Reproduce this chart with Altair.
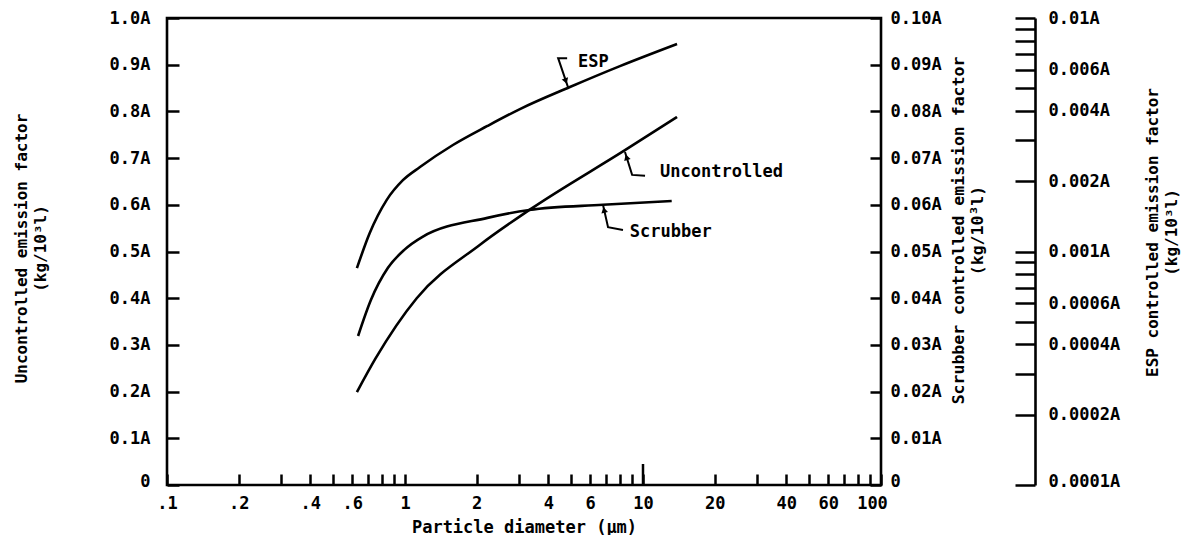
import altair as alt
import pandas as pd

# ---- data ----
x_unc = [0.628, 0.75, 1.12, 2.06, 3.33, 8.4, 13.9]
y_unc = [0.199, 0.27, 0.400, 0.514, 0.589, 0.717, 0.788]

x_scr = [0.635, 0.719, 0.848, 0.99, 1.18, 2.22, 3.33, 6.78, 13.2]
y_scr = [0.0319, 0.0396, 0.0465, 0.0503, 0.0531, 0.0572, 0.0589, 0.0600, 0.0608]

x_esp = [0.628, 0.711, 0.837, 0.980, 1.156, 1.59, 2.22, 3.04, 4.93, 8.0, 13.9]
y_esp = [0.000849, 0.00120, 0.00166, 0.00202, 0.00230, 0.002858, 0.003448, 0.004074, 0.005064, 0.006223, 0.00774]

x_ticks = [0.1, 0.2, 0.3, 0.4, 0.5, 0.6, 0.7, 0.8, 0.9, 1, 2, 3, 4, 5, 6, 7, 8, 9, 10,
           20, 30, 40, 50, 60, 70, 80, 90, 100]
x_labels = [0.1, 0.2, 0.4, 0.6, 1, 2, 4, 6, 10, 20, 40, 60, 100]
x_long_tick = [10]
u_ticks = [0, 0.1, 0.2, 0.3, 0.4, 0.5, 0.6, 0.7, 0.8, 0.9, 1.0]
s_ticks = [0, 0.01, 0.02, 0.03, 0.04, 0.05, 0.06, 0.07, 0.08, 0.09, 0.1]
e_ticks = [0.0001, 0.0002, 0.0003, 0.0004, 0.0005, 0.0006, 0.0007, 0.0008, 0.0009,
           0.001, 0.002, 0.003, 0.004, 0.005, 0.006, 0.007, 0.008, 0.009, 0.01]
e_labels = [0.01, 0.006, 0.004, 0.002, 0.001, 0.0006, 0.0004, 0.0002, 0.0001]

# annotations (positions in data units of the x axis and the uncontrolled axis)
label_names = ["ESP", "Uncontrolled", "Scrubber"]
label_x = [5.33, 11.8, 8.8]
label_y = [0.906, 0.670, 0.542]

leader_name = ["ESP"] * 3 + ["Uncontrolled"] * 3 + ["Scrubber"] * 3
leader_x = [4.84, 4.40, 4.80, 8.40, 9.0, 10.2, 6.79, 7.13, 8.24]
leader_y = [0.852, 0.914, 0.914, 0.713, 0.664, 0.662, 0.600, 0.552, 0.546]
leader_ord = [0, 1, 2, 0, 1, 2, 0, 1, 2]

arrow_x = [4.74, 8.53, 6.86]
arrow_y = [0.865, 0.702, 0.589]
arrow_angle = [161, 343, 347]

FONT = "DejaVu Sans Mono"
W, H = 714, 467
LABEL_FS = 17

unc_df = pd.DataFrame({"x": x_unc, "y": y_unc})
scr_df = pd.DataFrame({"x": x_scr, "y": y_scr})
esp_df = pd.DataFrame({"x": x_esp, "y": y_esp})
lab_df = pd.DataFrame({"x": label_x, "y": label_y, "t": label_names})
lead_df = pd.DataFrame({"x": leader_x, "y": leader_y, "g": leader_name, "o": leader_ord})
arr_df = pd.DataFrame({"x": arrow_x, "y": arrow_y, "a": arrow_angle})
tick10_df = pd.DataFrame({"x": x_long_tick})

bottom_up = {"condition": {"test": "datum.value <= 0.0001", "value": -4}, "value": 0}

xlab_list = "[" + ",".join(repr(v) for v in x_labels) + "]"
x_axis = alt.Axis(
    values=x_ticks, orient="bottom", offset=-11, tickSize=11, domain=False, grid=False,
    labelExpr=f"indexof({xlab_list}, datum.value) >= 0 ? (datum.value < 1 ? replace('' + datum.value, '0.', '.') : '' + datum.value) : ''",
    labelOffset={"condition": {"test": "datum.value >= 100", "value": -9}, "value": 0},
    labelPadding=10, labelOverlap=False, labelFlush=False, labelBound=False,
    title="Particle diameter (\u03bcm)", titleX=W / 2, titleY=53, titleBaseline="middle",
    titleAlign="center", titleFontSize=17,
)
x_enc = alt.X("x:Q", scale=alt.Scale(type="log", domain=[0.1, 100], nice=False), axis=x_axis)

u_axis = alt.Axis(
    values=u_ticks, orient="left", offset=-12, tickSize=12, domain=False, grid=False,
    labelExpr="datum.value == 0 ? '0' : format(datum.value, '.1f') + 'A'",
    labelOffset=bottom_up,
    labelPadding=17, labelOverlap=False, labelFlush=False, labelBound=False,
    title=["Uncontrolled emission factor", "(kg/10\u00b3l)"], titleAngle=270,
    titleX=-166, titleY=230, titleAlign="center", titleBaseline="top", titleLineHeight=19,
    titleFontSize=16,
)
u_enc = alt.Y("y:Q", scale=alt.Scale(domain=[0, 1], nice=False, zero=True), axis=u_axis)

s_axis = alt.Axis(
    values=s_ticks, orient="right", offset=-11, tickSize=11, domain=False, grid=False,
    labelExpr="datum.value == 0 ? '0' : format(datum.value, '.2f') + 'A'",
    labelOffset=bottom_up,
    labelPadding=9, labelOverlap=False, labelFlush=False, labelBound=False,
    title=["Scrubber controlled emission factor", "(kg/10\u00b3l)"], titleAngle=270,
    titleX=80, titleY=212, titleAlign="center", titleBaseline="top", titleLineHeight=19,
    titleFontSize=16.5,
)
s_enc = alt.Y("y:Q", scale=alt.Scale(domain=[0, 0.1], nice=False, zero=True), axis=s_axis)

elab_list = "[" + ",".join(repr(v) for v in e_labels) + "]"
e_axis1 = alt.Axis(
    values=e_ticks, orient="right", offset=134, tickSize=20, domain=False, grid=False,
    labelExpr=f"indexof({elab_list}, datum.value) >= 0 ? format(datum.value, '') + 'A' : ''",
    labelOffset=bottom_up,
    labelPadding=13, labelOverlap=False, labelFlush=False, labelBound=False, title=None,
)
e_axis2 = alt.Axis(
    orient="right", offset=154, domain=True, ticks=False, labels=False, grid=False,
    title=["ESP controlled emission factor", "(kg/10\u00b3l)"], titleAngle=270,
    titleX=109, titleY=214, titleAlign="center", titleBaseline="top", titleLineHeight=19,
    titleFontSize=16,
)
e_scale = alt.Scale(type="log", domain=[0.0001, 0.01], nice=False)

LW = 2.6

u_line = alt.Chart(unc_df).mark_line(color="black", strokeWidth=LW, interpolate="monotone").encode(x=x_enc, y=u_enc)
leaders = alt.Chart(lead_df).mark_line(color="black", strokeWidth=2).encode(
    x=x_enc, y=u_enc, detail="g:N", order="o:Q")
arrows = alt.Chart(arr_df).mark_point(shape="triangle-up", filled=True, color="black", size=45, opacity=1).encode(
    x=x_enc, y=u_enc, angle=alt.Angle("a:Q", scale=None))
labels = alt.Chart(lab_df).mark_text(align="left", baseline="middle", font=FONT, fontWeight="bold",
                                     fontSize=LABEL_FS, color="black").encode(x=x_enc, y=u_enc, text="t:N")
tick10 = alt.Chart(tick10_df).mark_rule(color="black", strokeWidth=2.5).encode(
    x=x_enc, y=alt.value(H), y2=alt.value(H - 21))

u_group = alt.layer(u_line, leaders, arrows, labels, tick10)

s_line = alt.Chart(scr_df).mark_line(color="black", strokeWidth=LW, interpolate="monotone").encode(x=x_enc, y=s_enc)
e_line = alt.Chart(esp_df).mark_line(color="black", strokeWidth=LW, interpolate="monotone").encode(
    x=x_enc, y=alt.Y("y:Q", scale=e_scale, axis=e_axis1))
e_dom = alt.Chart(esp_df).mark_line(opacity=0).encode(
    x=x_enc, y=alt.Y("y:Q", scale=e_scale, axis=e_axis2))

chart = alt.layer(u_group, s_line, e_line, e_dom).resolve_scale(y="independent").properties(
    width=W, height=H, autosize="none",
    padding={"left": 159, "top": 10, "right": 300, "bottom": 50},
    background="white",
).configure_view(stroke="black", strokeWidth=2.6).configure_axis(
    labelFont=FONT, labelFontWeight="bold", labelFontSize=LABEL_FS, labelColor="black",
    titleFont=FONT, titleFontWeight="bold", titleFontSize=16, titleColor="black",
    tickColor="black", tickWidth=2.5, domainColor="black", domainWidth=2.6,
)

chart.save("out.html", embed_options={"renderer": "svg", "actions": False})
